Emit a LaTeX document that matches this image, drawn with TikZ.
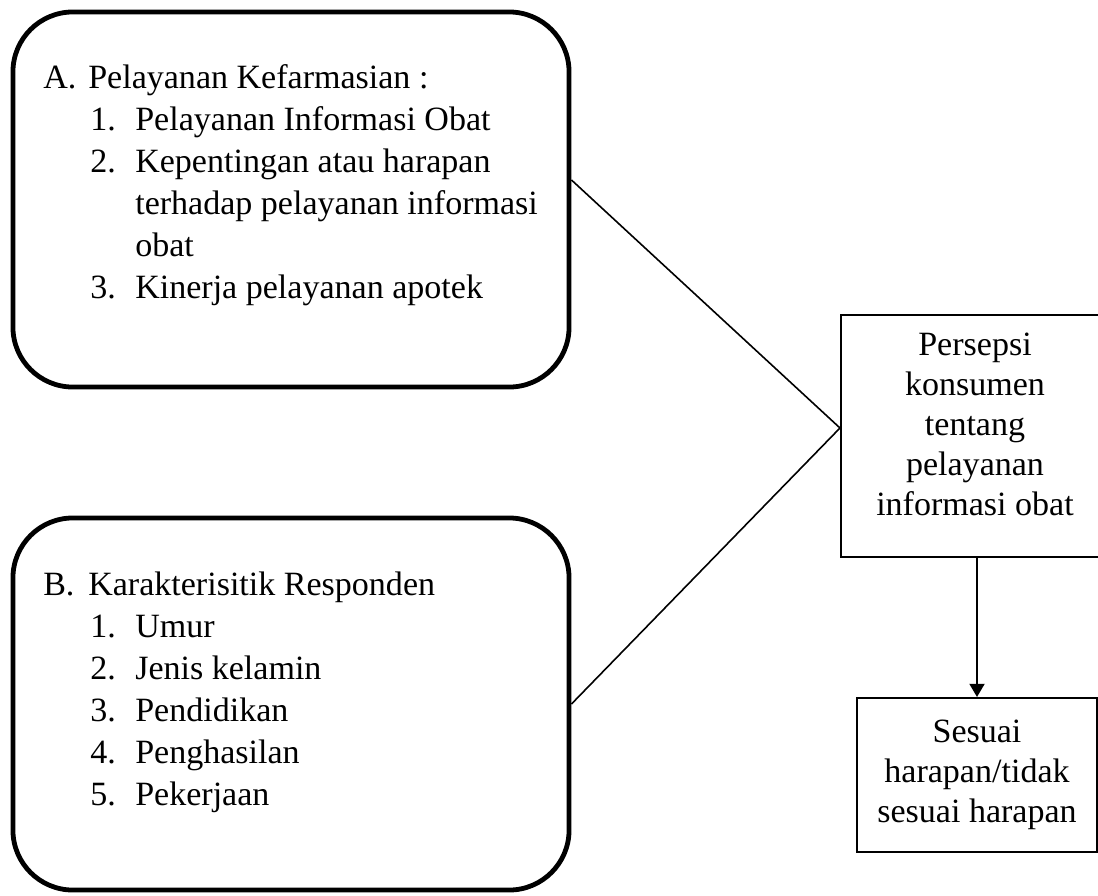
\documentclass[tikz,border=0pt]{standalone}
\usepackage{fontspec}
\setmainfont{Liberation Serif}
\usetikzlibrary{arrows.meta}
\newcommand{\numitem}[1]{\hspace*{1.175cm}\makebox[1.125cm][l]{#1}}
\newcommand{\contline}{\hspace*{2.3cm}}

\begin{document}
\begin{tikzpicture}[
  x=0.025cm, y=-0.025cm,
  txt/.style={font=\fontsize{24.2}{29.9}\selectfont},
  txtc/.style={font=\fontsize{24.2}{28.45}\selectfont},
  group/.style={draw, line width=0.12cm, rounded corners=1.5cm, minimum width=13.9cm},
  plain/.style={draw, line width=0.05cm},
  link/.style={line width=0.04cm},
  arr/.style={-{Triangle[width=0.375cm, length=0.33cm]}, line width=0.05cm}
]
\useasboundingbox (0,0) rectangle (1098,895);
\node[group, minimum height=9.375cm] (boxA) at (291,199.5) {};
\node[group, minimum height=9.3cm] (boxB) at (291,704) {};
\node[txt, align=left, anchor=north west, inner sep=0] (listA) at (43,64.5) {%
  \makebox[1.125cm][l]{A.}Pelayanan Kefarmasian :\\
  \numitem{1.}Pelayanan Informasi Obat\\
  \numitem{2.}Kepentingan atau harapan\\
  \contline terhadap pelayanan informasi\\
  \contline obat\\
  \numitem{3.}Kinerja pelayanan apotek};
\node[txt, align=left, anchor=north west, inner sep=0] (listB) at (43,571.5) {%
  \makebox[1.125cm][l]{B.}Karakterisitik Responden\\
  \numitem{1.}Umur\\
  \numitem{2.}Jenis kelamin\\
  \numitem{3.}Pendidikan\\
  \numitem{4.}Penghasilan\\
  \numitem{5.}Pekerjaan};
\node[plain, minimum width=6.7cm, minimum height=6.05cm] (persepsi) at (975,436) {};
\node[txtc, align=center, inner sep=0] (persepsitext) at (975,424) {Persepsi\\konsumen\\tentang\\pelayanan\\informasi obat};
\node[plain, txtc, align=center, minimum width=6cm, minimum height=3.85cm] (hasil) at (977,775) {Sesuai\\harapan/tidak\\sesuai harapan};
\draw[link] ([yshift=0.4875cm]boxA.east) -- ([yshift=0.2cm]persepsi.west);
\draw[link] (boxB.east) -- ([yshift=0.2cm]persepsi.west);
\draw[arr] (hasil.north |- persepsi.south) -- (hasil.north);
\end{tikzpicture}
\end{document}
